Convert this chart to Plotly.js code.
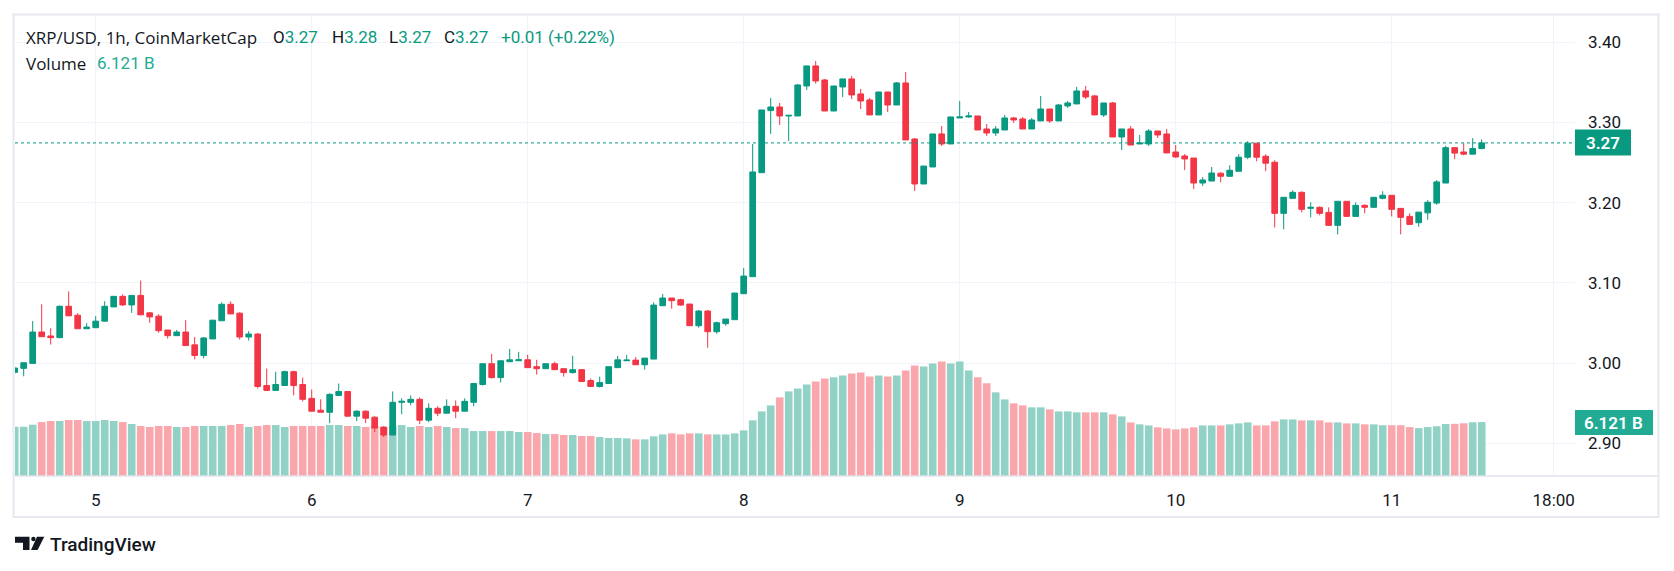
<!DOCTYPE html>
<html><head><meta charset="utf-8">
<script src="https://cdn.plot.ly/plotly-3.0.1.min.js"></script>
<style>html,body{margin:0;padding:0;background:#fff;} #chart{width:1674px;height:571px;}</style>
</head><body><div id="chart"></div>
<script>
// ---- data (XRP/USD, 1h candles, first candle 2025-07-04 15:00) ----
const firstCandle = '2025-07-04 15:00';
const openP = [2.9885,2.9934,2.9996,3.0387,3.0338,3.0317,3.0708,3.0597,3.0428,3.0441,
 3.0523,3.0700,3.0832,3.0725,3.0844,3.0626,3.0585,3.0412,3.0342,3.0387,
 3.0227,3.0095,3.0301,3.0527,3.0733,3.0622,3.0325,3.0362,2.9720,2.9659,
 2.9720,2.9893,2.9733,2.9560,2.9412,2.9387,2.9597,2.9646,2.9338,2.9400,
 2.9325,2.9202,2.9103,2.9511,2.9511,2.9548,2.9288,2.9436,2.9375,2.9461,
 2.9400,2.9511,2.9733,2.9992,2.9819,3.0017,3.0029,3.0041,2.9955,2.9930,
 2.9992,2.9930,2.9881,2.9918,2.9782,2.9708,2.9745,2.9943,3.0029,3.0037,
 2.9979,3.0050,3.0715,3.0811,3.0790,3.0736,3.0466,3.0649,3.0391,3.0491,
 3.0541,3.0865,3.1077,3.2374,3.3148,3.3193,3.3081,3.3081,3.3455,3.3705,
 3.3530,3.3143,3.3443,3.3543,3.3356,3.3281,3.3094,3.3380,3.3218,3.3493,
 3.2794,3.2233,3.2445,3.2857,3.2732,3.3056,3.3069,3.3081,3.2919,3.2869,
 3.2906,3.3056,3.3044,3.2919,3.3019,3.3168,3.3019,3.3206,3.3231,3.3393,
 3.3331,3.3094,3.3243,3.2819,3.2919,3.2732,3.2732,3.2894,3.2857,3.2632,
 3.2582,3.2557,3.2245,3.2270,3.2367,3.2329,3.2392,3.2567,3.2742,3.2579,
 3.2504,3.1867,3.2054,3.2129,3.1929,3.1942,3.1879,3.1717,3.2017,3.1829,
 3.1967,3.1942,3.2054,3.2092,3.1929,3.1829,3.1750,3.1873,3.1995,3.2245,
 3.2686,3.2632,3.2605,3.2675];
const highP = [2.9960,3.0004,3.0523,3.0733,3.0436,3.0720,3.0893,3.0622,3.0498,3.0585,
 3.0770,3.0832,3.0856,3.0844,3.1029,3.0638,3.0609,3.0412,3.0412,3.0535,
 3.0325,3.0325,3.0535,3.0757,3.0770,3.0634,3.0399,3.0375,2.9930,2.9893,
 2.9906,2.9906,2.9819,2.9671,2.9548,2.9622,2.9745,2.9646,2.9412,2.9412,
 2.9338,2.9214,2.9646,2.9560,2.9597,2.9572,2.9498,2.9461,2.9548,2.9535,
 2.9560,2.9745,2.9992,3.0115,3.0029,3.0177,3.0140,3.0103,3.0041,2.9992,
 3.0017,2.9930,3.0091,2.9918,2.9807,2.9831,2.9955,3.0089,3.0100,3.0075,
 3.0062,3.0757,3.0861,3.0811,3.0803,3.0736,3.0661,3.0661,3.0516,3.0549,
 3.0873,3.1185,3.2732,3.3156,3.3306,3.3243,3.3089,3.3480,3.3705,3.3767,
 3.3543,3.3455,3.3543,3.3580,3.3418,3.3306,3.3380,3.3380,3.3505,3.3630,
 3.2807,3.2457,3.2857,3.2956,3.3069,3.3268,3.3131,3.3081,3.2981,3.2956,
 3.3094,3.3069,3.3069,3.3056,3.3331,3.3168,3.3231,3.3268,3.3443,3.3455,
 3.3343,3.3243,3.3256,3.2919,3.2956,3.2844,3.2919,3.2894,3.2919,3.2719,
 3.2607,3.2557,3.2320,3.2445,3.2379,3.2467,3.2604,3.2767,3.2742,3.2604,
 3.2529,3.2067,3.2154,3.2142,3.2004,3.1954,3.1942,3.2017,3.2017,3.2004,
 3.1979,3.2067,3.2142,3.2092,3.1929,3.1867,3.1882,3.2032,3.2282,3.2709,
 3.2686,3.2741,3.2805,3.2790];
const lowP = [2.9860,2.9835,2.9996,3.0329,3.0231,3.0317,3.0589,3.0428,3.0428,3.0441,
 3.0515,3.0700,3.0712,3.0626,3.0601,3.0502,3.0379,3.0305,3.0342,3.0218,
 3.0046,3.0058,3.0301,3.0527,3.0613,3.0292,3.0280,2.9683,2.9659,2.9659,
 2.9720,2.9597,2.9523,2.9400,2.9387,2.9251,2.9597,2.9338,2.9276,2.9251,
 2.9140,2.9078,2.9103,2.9362,2.9474,2.9239,2.9264,2.9338,2.9375,2.9313,
 2.9400,2.9461,2.9720,2.9807,2.9757,3.0017,3.0029,2.9943,2.9856,2.9930,
 2.9918,2.9831,2.9869,2.9770,2.9708,2.9696,2.9745,2.9943,3.0029,2.9979,
 2.9917,3.0050,3.0715,3.0678,3.0715,3.0466,3.0441,3.0191,3.0366,3.0466,
 3.0541,3.0865,3.1077,3.2374,3.2857,3.2969,3.2769,3.3081,3.3405,3.3484,
 3.3143,3.3143,3.3318,3.3293,3.3168,3.3094,3.3094,3.3131,3.3218,3.2782,
 3.2146,3.2233,3.2445,3.2707,3.2732,3.3056,3.3056,3.2906,3.2832,3.2832,
 3.2906,3.2994,3.2919,3.2919,3.3019,3.2994,3.3019,3.3181,3.3231,3.3293,
 3.3094,3.3069,3.2819,3.2657,3.2719,3.2732,3.2707,3.2807,3.2620,3.2557,
 3.2407,3.2170,3.2208,3.2270,3.2254,3.2329,3.2392,3.2542,3.2517,3.2392,
 3.1692,3.1667,3.2054,3.1879,3.1817,3.1842,3.1717,3.1604,3.1829,3.1829,
 3.1867,3.1942,3.2042,3.1829,3.1604,3.1729,3.1700,3.1786,3.1973,3.2245,
 3.2541,3.2591,3.2605,3.2665];
const closeP = [2.9938,3.0004,3.0387,3.0329,3.0317,3.0708,3.0589,3.0428,3.0449,3.0523,
 3.0708,3.0832,3.0725,3.0844,3.0601,3.0576,3.0404,3.0342,3.0387,3.0218,
 3.0095,3.0313,3.0535,3.0733,3.0613,3.0325,3.0362,2.9708,2.9659,2.9733,
 2.9893,2.9720,2.9548,2.9400,2.9387,2.9610,2.9646,2.9338,2.9400,2.9313,
 2.9190,2.9103,2.9511,2.9523,2.9548,2.9288,2.9436,2.9375,2.9461,2.9400,
 2.9523,2.9745,2.9992,2.9819,3.0029,3.0041,3.0041,2.9943,2.9930,2.9992,
 2.9918,2.9881,2.9918,2.9770,2.9708,2.9757,2.9955,3.0040,3.0037,2.9979,
 3.0062,3.0723,3.0811,3.0778,3.0723,3.0466,3.0649,3.0391,3.0503,3.0549,
 3.0873,3.1085,3.2383,3.3156,3.3193,3.3081,3.3089,3.3468,3.3705,3.3518,
 3.3143,3.3455,3.3543,3.3343,3.3268,3.3094,3.3380,3.3218,3.3493,3.2782,
 3.2233,3.2457,3.2857,3.2732,3.3069,3.3069,3.3081,3.2906,3.2869,3.2919,
 3.3056,3.3031,3.2919,3.3031,3.3168,3.3019,3.3218,3.3243,3.3393,3.3318,
 3.3094,3.3243,3.2819,3.2919,3.2719,3.2744,3.2894,3.2844,3.2620,3.2570,
 3.2545,3.2245,3.2283,3.2370,3.2329,3.2404,3.2567,3.2742,3.2567,3.2492,
 3.1867,3.2067,3.2129,3.1917,3.1942,3.1867,3.1717,3.2017,3.1829,3.1967,
 3.1942,3.2067,3.2092,3.1917,3.1817,3.1729,3.1882,3.2005,3.2259,3.2686,
 3.2618,3.2605,3.2675,3.2745];
// volume in billions
const volumeB = [5.59,5.59,5.82,6.12,6.24,6.24,6.35,6.35,6.24,6.24,
 6.35,6.24,6.12,5.90,5.67,5.56,5.67,5.67,5.56,5.56,
 5.67,5.67,5.67,5.67,5.78,5.90,5.56,5.67,5.78,5.78,
 5.56,5.67,5.67,5.67,5.67,5.78,5.78,5.67,5.67,5.56,
 5.67,5.56,5.67,5.78,5.56,5.67,5.56,5.67,5.56,5.44,
 5.44,5.10,5.10,5.10,5.10,5.10,4.99,4.99,4.88,4.76,
 4.76,4.65,4.65,4.54,4.54,4.42,4.31,4.31,4.27,4.16,
 4.16,4.50,4.72,4.84,4.72,4.84,4.84,4.72,4.72,4.72,
 4.84,5.18,6.31,7.33,8.01,8.92,9.60,9.94,10.39,10.73,
 11.07,11.19,11.41,11.64,11.75,11.30,11.41,11.30,11.41,11.98,
 12.55,12.43,12.77,13.00,12.77,13.00,11.98,11.19,10.51,9.49,
 8.69,8.24,8.01,7.79,7.79,7.56,7.33,7.33,7.22,7.22,
 7.22,7.22,6.99,6.76,6.08,5.86,5.74,5.52,5.40,5.29,
 5.40,5.52,5.74,5.74,5.74,5.86,5.97,6.08,5.74,5.74,
 6.20,6.42,6.42,6.31,6.31,6.31,6.08,6.08,5.97,5.97,
 5.86,5.86,5.76,5.76,5.76,5.55,5.43,5.55,5.65,5.90,
 5.92,5.98,6.10,6.121];
const priceTicks = [2.90, 3.00, 3.10, 3.20, 3.30, 3.40];
const priceTickText = ['2.90','3.00','3.10','3.20','3.30','3.40'];
const timeTicks = ['2025-07-05','2025-07-06','2025-07-07','2025-07-08','2025-07-09','2025-07-10','2025-07-11','2025-07-11 18:00'];
const timeTickText = ['5','6','7','8','9','10','11','18:00'];
const lastPriceText = '3.27';
const lastVolumeText = '6.121 B';
const legendSymbol = 'XRP/USD, 1h, CoinMarketCap';
const legendOHLC = [['O','3.27'],['H','3.28'],['L','3.27'],['C','3.27']];
const legendChange = '+0.01 (+0.22%)';

// ---- build ----
const T0 = Date.parse(firstCandle.replace(' ','T') + ':00Z');
const times = openP.map((_, i) => new Date(T0 + i * 3600000).toISOString().slice(0,16).replace('T',' '));
const lastClose = closeP[closeP.length - 1];

const UP = '#089981', DOWN = '#F23645';
const volColors = closeP.map((c, i) => c >= openP[i] ? '#92d2c6' : '#f9a7ad');

const L = 15, R = 1575, T = 15, B = 476;
const px = x => (x - L) / (R - L);
const py = y => (B - y) / (B - T);
const FONT = 'Roboto, "Open Sans", sans-serif';
const FONT_WIDE = '"Open Sans", Roboto, sans-serif';
const DARK = '#131722';

const traces = [
  { type: 'bar', x: times, y: volumeB, marker: { color: volColors, line: { width: 0 } },
    xaxis: 'x', yaxis: 'y', hoverinfo: 'skip' },
  { type: 'candlestick', x: times, open: openP, high: highP, low: lowP, close: closeP,
    xaxis: 'x', yaxis: 'y2', whiskerwidth: 0,
    increasing: { line: { color: UP, width: 1 }, fillcolor: UP },
    decreasing: { line: { color: DOWN, width: 1 }, fillcolor: DOWN },
    hoverinfo: 'skip' }
];

function pathPx(pts) {
  return pts.map((p, k) => (k ? 'L' : 'M') + px(p[0]).toFixed(5) + ',' + py(p[1]).toFixed(5)).join(' ') + ' Z';
}

const shapes = [
  { type: 'rect', xref: 'paper', yref: 'paper', x0: px(13.5), x1: px(1658.5), y0: py(517), y1: py(14.5),
    line: { color: '#e6e9ef', width: 2 }, fillcolor: 'rgba(0,0,0,0)', layer: 'below' },
  { type: 'line', xref: 'paper', yref: 'paper', x0: px(13.5), x1: px(1658.5), y0: 0, y1: 0,
    line: { color: '#e0e3eb', width: 1.5 } },
  { type: 'line', xref: 'paper', yref: 'y2', x0: 0, x1: 1, y0: lastClose, y1: lastClose,
    line: { color: UP, width: 1, dash: 'dot' } },
  { type: 'rect', xref: 'paper', yref: 'paper', x0: px(1575), x1: px(1631), y0: py(155.5), y1: py(129.5),
    fillcolor: UP, line: { width: 0 } },
  { type: 'rect', xref: 'paper', yref: 'paper', x0: px(1575), x1: px(1653), y0: py(435), y1: py(410),
    fillcolor: '#22ab94', line: { width: 0 } },
  { type: 'path', xref: 'paper', yref: 'paper', path: pathPx([[15,536.7],[29.5,536.7],[29.5,550],[23,550],[23,542.7],[15,542.7]]),
    fillcolor: DARK, line: { width: 0 } },
  { type: 'circle', xref: 'paper', yref: 'paper', x0: px(31.2), x1: px(35.6), y0: py(541.2), y1: py(536.8),
    fillcolor: DARK, line: { width: 0 } },
  { type: 'path', xref: 'paper', yref: 'paper', path: pathPx([[37,536.7],[44.3,536.7],[37.6,550],[31,550]]),
    fillcolor: DARK, line: { width: 0 } }
];

const ann = (text, x, y, color, size, extra) => Object.assign({
  text, xref: 'paper', yref: 'paper', x: px(x), y: py(y), xanchor: 'left', yanchor: 'middle',
  showarrow: false, font: { family: FONT, size: size || 17, color: color || DARK }, borderpad: 0
}, extra || {});

const annotations = [
  ann(legendSymbol, 25, 37.4, DARK, 17, { font: { family: FONT_WIDE, size: 17, color: DARK } }),
  ...legendOHLC.map((p, k) => ann(p[0] + '<span style="color:' + UP + '">' + p[1] + '</span>', [272, 331, 388, 443][k], 37.4)),
  ann(legendChange, 500, 37.4, UP),
  ann('Volume', 25, 63, DARK, 17, { font: { family: FONT_WIDE, size: 17, color: DARK } }),
  ann(lastVolumeText, 96, 63, '#22ab94'),
  ann(lastPriceText, 1603, 142.5, '#ffffff', 17, { xanchor: 'center', font: { family: FONT, size: 17, color: '#ffffff', weight: 600 } }),
  ann(lastVolumeText, 1614, 422.5, '#ffffff', 17, { xanchor: 'center', font: { family: FONT, size: 17, color: '#ffffff', weight: 600 } }),
  ann('TradingView', 49, 544, DARK, 19, { font: { family: FONT, size: 19, color: DARK, weight: 500 } })
];

const layout = {
  width: 1674, height: 571,
  margin: { l: L, r: 1674 - R, t: T, b: 571 - B, pad: 0 },
  paper_bgcolor: '#ffffff', plot_bgcolor: '#ffffff',
  showlegend: false, hovermode: false, dragmode: false,
  boxgap: 0, boxgroupgap: 0.37, bargap: 0.15,
  xaxis: {
    type: 'date', range: ['2025-07-04 15:02', '2025-07-11 20:22'],
    tickmode: 'array', tickvals: timeTicks, ticktext: timeTickText,
    showgrid: true, gridcolor: '#f0f3fa', gridwidth: 1, zeroline: false, showline: false,
    ticks: '', ticklabelstandoff: 12, tickfont: { family: FONT, size: 17, color: DARK },
    rangeslider: { visible: false }, fixedrange: true
  },
  yaxis: { range: [0, 52.3], visible: false, showgrid: false, zeroline: false, fixedrange: true },
  yaxis2: {
    overlaying: 'y', side: 'right', range: [2.8592, 3.4340],
    tickmode: 'array', tickvals: priceTicks, ticktext: priceTickText,
    showgrid: true, gridcolor: '#f0f3fa', gridwidth: 1, zeroline: false, showline: false,
    ticks: '', ticklabelstandoff: 12, tickfont: { family: FONT, size: 17, color: DARK }, fixedrange: true
  },
  shapes, annotations
};

Plotly.newPlot('chart', traces, layout, { displayModeBar: false, staticPlot: true });
</script>
</body></html>
